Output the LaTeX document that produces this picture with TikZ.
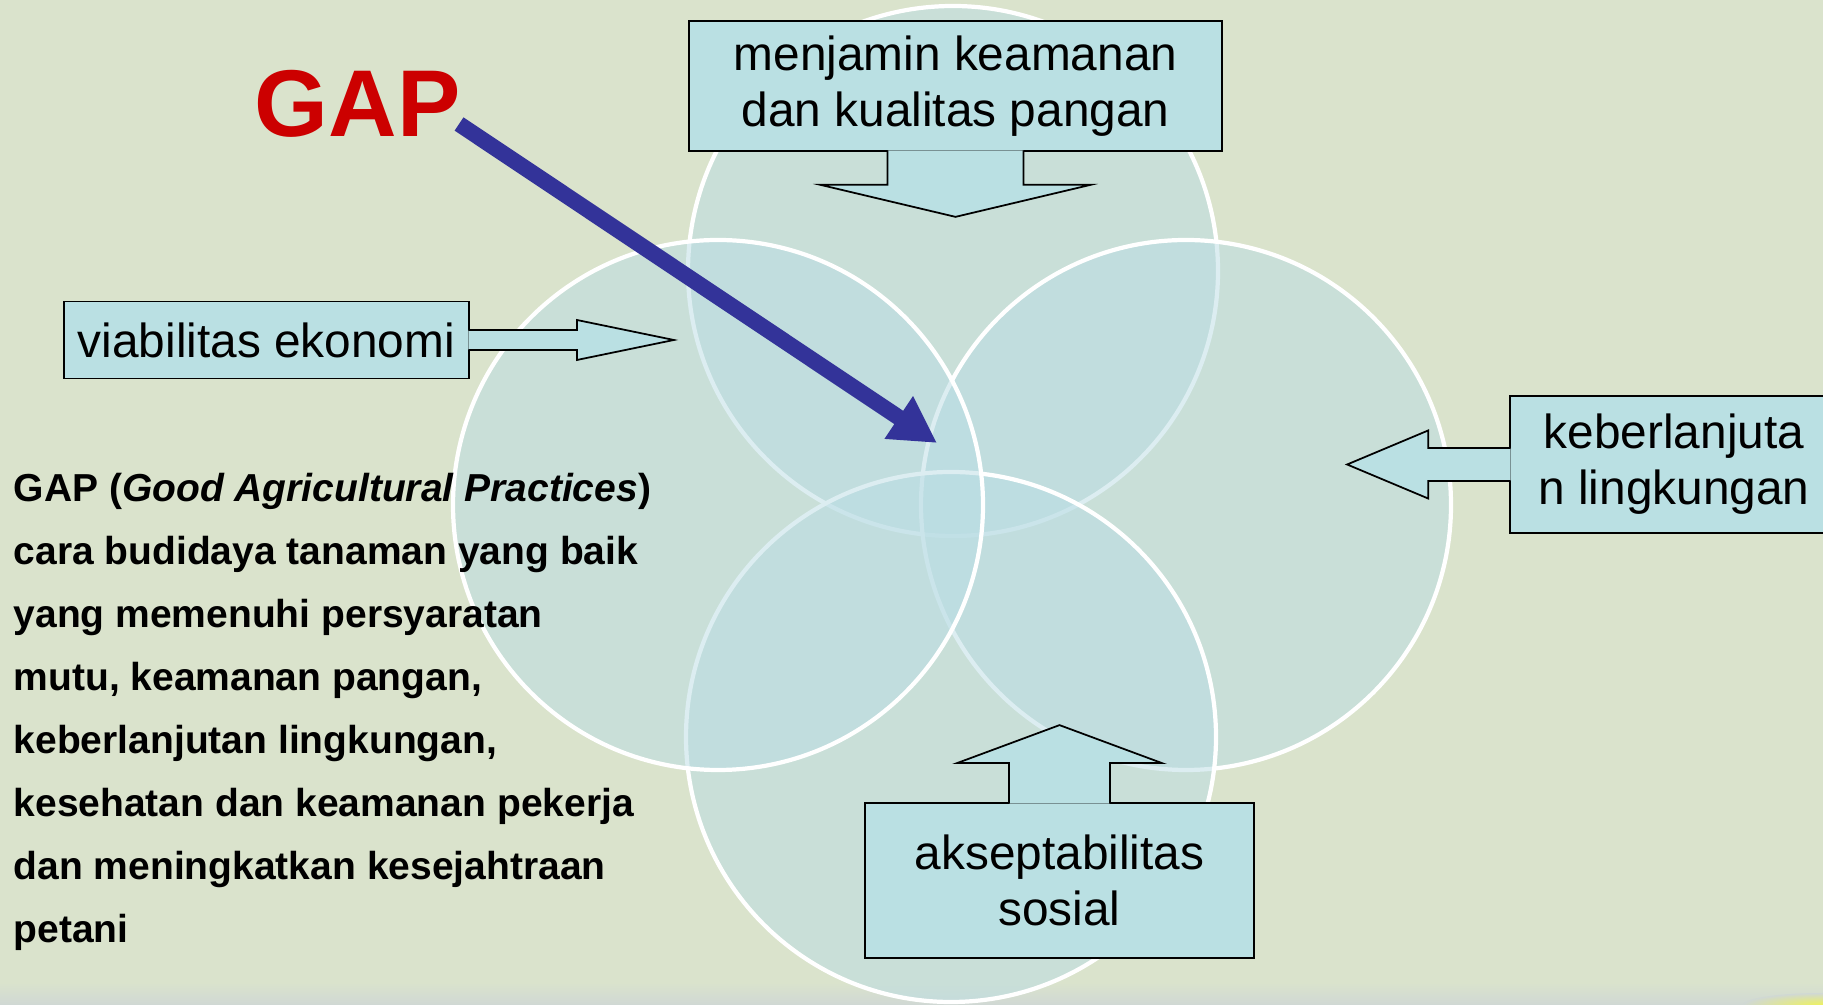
\documentclass[tikz,border=0pt]{standalone}
\usepackage{fontspec}
\setmainfont{Liberation Sans}
\usetikzlibrary{calc,arrows.meta}

\definecolor{slidebg}{HTML}{DAE3CC}
\definecolor{vennfill}{HTML}{BADDE4}
\definecolor{calloutfill}{HTML}{BAE0E3}
\definecolor{gapred}{HTML}{CC0000}
\definecolor{gapblue}{HTML}{333399}
\definecolor{bandgray}{HTML}{D0D8D4}

\begin{document}
\begin{tikzpicture}[x=0.1mm,y=-0.1mm,>={Triangle[length=4.6mm,width=4.8mm]}]
        \tikzset{venn/.style={circle, draw=white, line width=1.2pt, fill=vennfill, fill opacity=0.5, minimum size=53mm, inner sep=0pt},
        callout/.style={draw=black, line width=0.5pt, fill=calloutfill, align=center, inner sep=0pt, font=\fontsize{13.6pt}{16pt}\selectfont},
        stem/.style={draw=black, line width=0.5pt, fill=calloutfill},
        desc/.style={align=left, inner sep=0pt, font=\fontsize{11.1pt}{17.9pt}\selectfont\bfseries},
        gaplabel/.style={inner sep=0pt, text=gapred, font=\fontsize{27pt}{32pt}\selectfont\bfseries},
        }
        \useasboundingbox (0,0) rectangle (1823,1005);
        \clip (0,0) rectangle (1823,1005);
        \fill[slidebg] (0,0) rectangle (1823,1005);
        \shade[top color=slidebg, bottom color=bandgray] (0,982) rectangle (1823,1005);
        \shade[inner color=yellow!55!slidebg, outer color=bandgray] (1823,1005) ellipse (80 and 12);

%% circles
        \node [venn] (c_food) at (953,271) {};
        \node [venn] (c_env) at (1186,505) {};
        \node [venn] (c_soc) at (951,737) {};
        \node [venn] (c_econ) at (718,505) {};

%% callouts
        \node [callout, minimum width=53.3mm, minimum height=13mm] (food) at (955.5,86) {menjamin keamanan\\dan kualitas pangan};
        \node [callout, minimum width=40.5mm, minimum height=7.7mm] (econ) at (266.5,340) {viabilitas ekonomi};
        \node [callout, minimum width=32.8mm, minimum height=13.7mm] (env) at (1674,464.5) {keberlanjuta\\n lingkungan};
        \node [callout, minimum width=38.9mm, minimum height=15.5mm] (soc) at (1059.5,880.5) {akseptabilitas\\sosial};

        \path[stem] ($(food.south)+(-68,-1.5)$) -- ++(0,34.5) -- ++(-67,0) -- ($(food.south)+(0,65)$)
                    -- ($(food.south)+(135,33)$) -- ++(-67,0) -- ++(0,-34.5);
        \path[stem] ($(econ.east)+(-1.5,-10)$) -- ++(108.5,0) -- ++(0,-10) -- ($(econ.east)+(204,0)$)
                    -- ($(econ.east)+(107,20)$) -- ++(0,-10) -- ++(-108.5,0);
        \path[stem] ($(env.west)+(1.5,-16.5)$) -- ++(-82.5,0) -- ++(0,-17.5) -- ($(env.west)+(-162,0)$)
                    -- ($(env.west)+(-81,34)$) -- ++(0,-17.5) -- ++(82.5,0);
        \path[stem] ($(soc.north)+(-50.5,1.5)$) -- ++(0,-40.5) -- ++(-52,0) -- ($(soc.north)+(0,-77)$)
                    -- ($(soc.north)+(102.5,-39)$) -- ++(-52,0) -- ++(0,40.5);

%% GAP
        \node [gaplabel, anchor=base west] (gap) at (254,137) {GAP};
        \coordinate (core) at (937,443);
        \draw[->, gapblue, line width=1.6mm] ($(gap.base east)+(-2,-13)$) -- (core);

        \node [desc, anchor=north west] (gap_def) at (13,473) {GAP (\textit{Good Agricultural Practices})\\cara budidaya tanaman yang baik\\yang memenuhi persyaratan\\mutu, keamanan pangan,\\keberlanjutan lingkungan,\\kesehatan dan keamanan pekerja\\dan meningkatkan kesejahtraan\\petani};
\end{tikzpicture}
\end{document}
